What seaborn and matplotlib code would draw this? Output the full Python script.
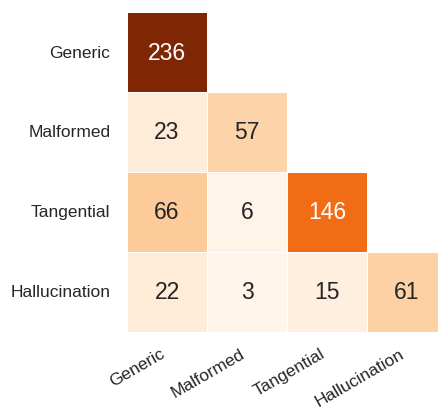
"""
Lower-triangular confusion heatmap of error categories.
"""

import matplotlib

matplotlib.use("Agg")
import matplotlib.pyplot as plt
import numpy as np
import pandas as pd
import seaborn as sns

categories = ["Generic", "Malformed", "Tangential", "Hallucination"]
row_generic = [236, 0, 0, 0]
row_malformed = [23, 57, 0, 0]
row_tangential = [66, 6, 146, 0]
row_hallucination = [22, 3, 15, 61]

counts = pd.DataFrame(
    [row_generic, row_malformed, row_tangential, row_hallucination],
    index=categories,
    columns=categories,
)

# hide the upper triangle
mask = np.triu(np.ones(counts.shape, dtype=bool), k=1)

sns.set_theme(style="white")
plt.rcParams["font.family"] = ["Liberation Sans", "DejaVu Sans"]

fig = plt.figure(figsize=(4.38, 4.10), dpi=100)
# right edge runs past the figure, as in the cropped original
ax = fig.add_axes([127 / 438, 77 / 410, 320 / 438, 320 / 410])

sns.heatmap(
    counts,
    mask=mask,
    cmap="Oranges",
    annot=True,
    fmt="d",
    annot_kws={"fontsize": 16.5},
    linewidths=0.6,
    linecolor="white",
    cbar=False,
    square=False,
    ax=ax,
)

ax.set_xlabel("")
ax.set_ylabel("")
ax.tick_params(axis="both", length=0, labelsize=12.5, colors="#262626")
ax.tick_params(axis="y", pad=12)
ax.tick_params(axis="x", pad=9.5)
plt.setp(ax.get_yticklabels(), rotation=0)
plt.setp(ax.get_xticklabels(), rotation=30, ha="right")

fig.savefig("out.png", dpi=100)
plt.close(fig)
